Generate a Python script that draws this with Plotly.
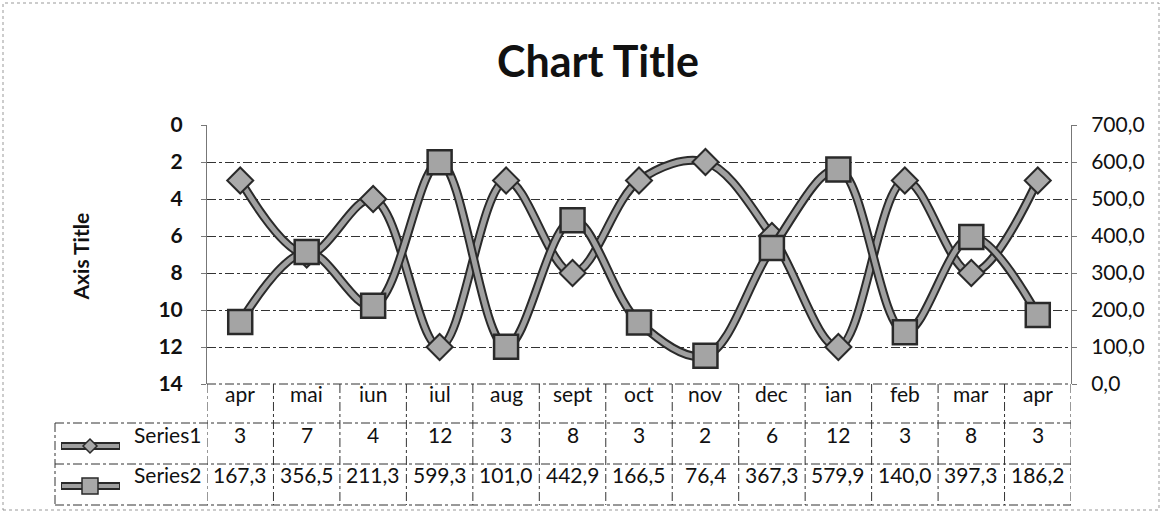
import plotly.graph_objects as go

categories = ["apr", "mai", "iun", "iul", "aug", "sept", "oct", "nov", "dec", "ian", "feb", "mar", "apr"]
series1 = [3, 7, 4, 12, 3, 8, 3, 2, 6, 12, 3, 8, 3]
series2 = [167.3, 356.5, 211.3, 599.3, 101.0, 442.9, 166.5, 76.4, 367.3, 579.9, 140.0, 397.3, 186.2]
left_ticks = [0, 2, 4, 6, 8, 10, 12, 14]
right_ticks = [0, 100, 200, 300, 400, 500, 600, 700]

FONT = "Lato, 'Open Sans', sans-serif"
W, H = 1162, 513
L, R, T, B = 207, 1071, 125, 384
xs = list(range(len(categories)))

def px(p):
    return (p - L) / (R - L)

def py(p):
    return (B - p) / (B - T)

fig = go.Figure()
LINE_DARK = "#2a2a2a"
LINE_GRAY = "#a0a0a0"

# Series1 (left axis)
fig.add_trace(go.Scatter(x=xs, y=series1, mode="lines", line=dict(color=LINE_DARK, width=9, shape="spline", smoothing=1),
                         yaxis="y", hoverinfo="skip", showlegend=False))
fig.add_trace(go.Scatter(x=xs, y=series1, mode="lines+markers", name="Series1",
                         line=dict(color=LINE_GRAY, width=5, shape="spline", smoothing=1),
                         marker=dict(symbol="diamond", size=20, color="#aaaaaa", line=dict(color=LINE_DARK, width=2)),
                         yaxis="y", showlegend=False))
# Series2 (right axis)
fig.add_trace(go.Scatter(x=xs, y=series2, mode="lines", line=dict(color=LINE_DARK, width=9, shape="spline", smoothing=1),
                         yaxis="y2", hoverinfo="skip", showlegend=False))
fig.add_trace(go.Scatter(x=xs, y=series2, mode="lines+markers", name="Series2",
                         line=dict(color=LINE_GRAY, width=5, shape="spline", smoothing=1),
                         marker=dict(symbol="square", size=24, color="#a4a4a4", line=dict(color=LINE_DARK, width=2.5)),
                         yaxis="y2", showlegend=False))

shapes = []
annotations = []

# Chart border (dotted)
shapes.append(dict(type="rect", xref="paper", yref="paper", x0=px(3), x1=px(1159), y0=py(510), y1=py(3),
                   line=dict(color="#999", width=1, dash="dot")))

# Data table geometry (pixels)
row_lines = [423, 464, 505]
row_centers = [408, 449, 489]
tbl_left = 55
DASH = dict(color="#333", width=1, dash="dashdot")
TFONT = dict(size=21, color="#111", family=FONT)

for yl in row_lines:
    shapes.append(dict(type="line", xref="paper", yref="paper", x0=px(tbl_left), x1=px(R), y0=py(yl), y1=py(yl), line=DASH))
shapes.append(dict(type="line", xref="paper", yref="paper", x0=px(tbl_left), x1=px(tbl_left), y0=py(423), y1=py(505), line=DASH))
for i in range(len(categories) + 1):
    shapes.append(dict(type="line", xref="x", yref="paper", x0=i - 0.5, x1=i - 0.5, y0=py(B), y1=py(505), line=DASH))

# Header row and values
for i, c in enumerate(categories):
    annotations.append(dict(x=i, y=py(row_centers[0]), xref="x", yref="paper", text=c, showarrow=False, font=TFONT))
    annotations.append(dict(x=i, y=py(row_centers[1]), xref="x", yref="paper", text=str(series1[i]), showarrow=False, font=TFONT))
    annotations.append(dict(x=i, y=py(row_centers[2]), xref="x", yref="paper", text=f"{series2[i]:.1f}".replace(".", ","),
                            showarrow=False, font=TFONT))

# Row labels with legend keys
for name, yc, sym in [("Series1", row_centers[1], "diamond"), ("Series2", row_centers[2], "square")]:
    annotations.append(dict(x=px(203), y=py(yc), xref="paper", yref="paper", text=name, showarrow=False, xanchor="right",
                            font=TFONT))
    ky = yc - 3
    shapes.append(dict(type="line", xref="paper", yref="paper", x0=px(61), x1=px(120), y0=py(ky), y1=py(ky),
                       line=dict(color=LINE_DARK, width=8)))
    shapes.append(dict(type="line", xref="paper", yref="paper", x0=px(62), x1=px(119), y0=py(ky), y1=py(ky),
                       line=dict(color=LINE_GRAY, width=4)))
    cx = 90
    if sym == "diamond":
        path = f"M {px(cx-7)} {py(ky)} L {px(cx)} {py(ky-7)} L {px(cx+7)} {py(ky)} L {px(cx)} {py(ky+7)} Z"
    else:
        path = f"M {px(cx-8)} {py(ky-8)} L {px(cx+8)} {py(ky-8)} L {px(cx+8)} {py(ky+8)} L {px(cx-8)} {py(ky+8)} Z"
    shapes.append(dict(type="path", xref="paper", yref="paper", path=path, fillcolor="#a8a8a8",
                       line=dict(color=LINE_DARK, width=1.5)))

# Axis title
annotations.append(dict(x=px(65), y=py(257), xref="paper", yref="paper", text="<b>Axis Title</b>", showarrow=False,
                        textangle=-90, font=dict(size=21, color="#111", family=FONT)))

fig.update_layout(
    width=W, height=H,
    margin=dict(l=L, r=W - R, t=T, b=H - B),
    paper_bgcolor="white", plot_bgcolor="white",
    separators=",.",
    title=dict(text="<b>Chart Title</b>", x=598 / W, xref="container", y=1 - 62 / H, yanchor="middle", xanchor="center",
               font=dict(size=43, color="#111", family=FONT)),
    font=dict(family=FONT, color="#111"),
    xaxis=dict(range=[-0.5, len(categories) - 0.5], showticklabels=False, showgrid=False, zeroline=False,
               showline=False, ticks=""),
    yaxis=dict(range=[14, 0], tickvals=left_ticks, ticktext=[f"<b>{v}</b>" for v in left_ticks],
               showgrid=True, gridcolor="#333", griddash="dashdot", gridwidth=1,
               zeroline=False, showline=True, linecolor="#777", linewidth=1, ticks="outside", ticklen=5,
               tickcolor="#777", tickfont=dict(size=21, color="#111", family=FONT), ticklabelstandoff=14),
    yaxis2=dict(range=[0, 700], tickvals=right_ticks, tickformat=".1f", overlaying="y", side="right", showgrid=False,
                zeroline=False, showline=True, linecolor="#777", linewidth=1, ticks="outside", ticklen=5,
                tickcolor="#777", tickfont=dict(size=21, color="#111", family=FONT), ticklabelstandoff=10),
    shapes=shapes,
    annotations=annotations,
    showlegend=False,
)
# bottom axis line (category axis at 14)
fig.add_shape(type="line", xref="paper", yref="paper", x0=0, x1=1, y0=0, y1=0, line=DASH)

fig.write_html("out.html", config={"displayModeBar": False}, post_script="document.body.style.margin='0';")
